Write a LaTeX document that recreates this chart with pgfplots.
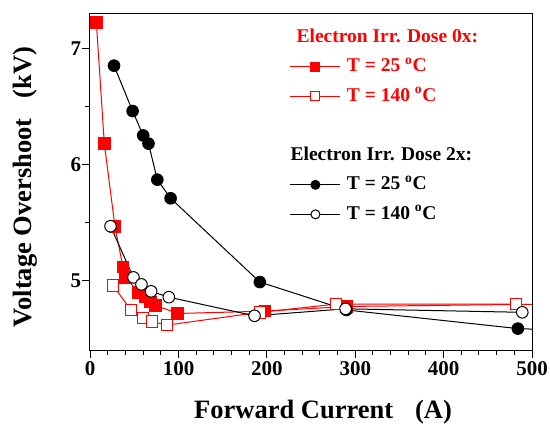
\documentclass[border=0pt]{standalone}
\usepackage{pgfplots}
\pgfplotsset{compat=1.18}
\usepackage{fontspec}
\setmainfont{Liberation Serif}

\begin{document}
\begin{tikzpicture}
% fixed page size: 550 x 429
\useasboundingbox (-89.3pt,-78.3pt) rectangle (460.7pt,350.7pt);
\begin{axis}[
    scale only axis,
    width=442.7pt, height=337.4pt,
    xmin=-1, xmax=500,
    ymin=4.4, ymax=7.3,
    xtick={0,100,...,500},
    ytick={5,6,7},
    minor x tick num=4,
    minor y tick num=1,
    tick align=outside,
    tick pos=left,
    major tick length=7pt,
    minor tick length=4pt,
    axis line style={line width=1pt},
    every tick/.style={line width=1pt, black},
    /pgf/number format/assume math mode=true,
    ticklabel style={font=\fontsize{21}{24}\selectfont\bfseries},
    yticklabel style={inner sep=1pt},
    xlabel={Forward Current\hspace{22pt}(A)},
    ylabel={Voltage Overshoot\hspace{20pt}(kV)},
    every axis x label/.style={at={(axis description cs:0.528,-0.181)}, anchor=center,
        font=\fontsize{26.5}{30}\selectfont\bfseries},
    every axis y label/.style={at={(axis description cs:-0.1446,0.485)}, anchor=center, rotate=90,
        font=\fontsize{26.5}{30}\selectfont\bfseries},
    legend style={
        at={(0.446,0.962)}, anchor=north west,
        draw=none, fill=none,
        font=\fontsize{19.5}{22}\selectfont\bfseries,
        row sep=11.5pt, column sep=6pt,
        nodes={inner sep=0pt, text height=14pt, text depth=4pt},
    },
    legend cell align=left,
    legend image code/.code={
        \draw[mark repeat=2, mark phase=2, #1, mark size=4.5pt]
            plot coordinates {(0pt,0pt) (25pt,0pt) (50pt,0pt)};
    },
]

% --- Dose 0x title ---
\addlegendimage{legend image code/.code={
    \path[draw=none] (0pt,0pt) (50pt,0pt);
    \node[overlay, anchor=west, inner sep=0pt, text=red, font=\fontsize{19.5}{22}\selectfont\bfseries]
        at (6pt,0pt) {Electron Irr. Dose 0x:};}}
\addlegendentry{}

% Dose 0x, 25 C
\addplot[red, line width=1pt, mark=square*, mark size=5.8pt, mark options={fill=red}]
    coordinates {
    (7,7.22) (16,6.18) (28,5.47) (37,5.12) (40,5.03) (55,4.90) (62,4.86)
    (68,4.82) (74,4.79) (99,4.72) (198,4.74) (290,4.78) (510,4.80)
    };
\addlegendentry[text=red]{T = 25 \textsuperscript{o}C}

% Dose 0x, 140 C
\addplot[red, line width=1pt, mark=square*, mark size=5.8pt, mark options={fill=white}]
    coordinates {
    (26,4.96) (46,4.75) (60,4.68) (70,4.65) (87,4.62) (192,4.73) (278,4.80) (482,4.80)
    };
\addlegendentry[text=red]{T = 140 \textsuperscript{o}C}

% spacer row
\addlegendimage{empty legend}
\addlegendentry{}

% --- Dose 2x title ---
\addlegendimage{legend image code/.code={
    \path[draw=none] (0pt,0pt) (50pt,0pt);
    \node[overlay, anchor=west, inner sep=0pt, text=black, font=\fontsize{19.5}{22}\selectfont\bfseries]
        at (0pt,0pt) {Electron Irr. Dose 2x:};}}
\addlegendentry{}

% Dose 2x, 25 C
\addplot[black, line width=1pt, mark=*, mark size=5.8pt, mark options={fill=black}]
    coordinates {
    (27,6.85) (48,6.46) (60,6.25) (66,6.18) (76,5.87) (91,5.71)
    (192,4.99) (290,4.75) (484,4.59) (520,4.58)
    };
\addlegendentry{T = 25 \textsuperscript{o}C}

% Dose 2x, 140 C
\addplot[black, line width=1pt, mark=*, mark size=5.8pt, mark options={fill=white}]
    coordinates {
    (23,5.47) (49,5.03) (58,4.97) (69,4.91) (89,4.86) (186,4.70) (289,4.76) (489,4.73)
    };
\addlegendentry{T = 140 \textsuperscript{o}C}

\end{axis}
\end{tikzpicture}
\end{document}
